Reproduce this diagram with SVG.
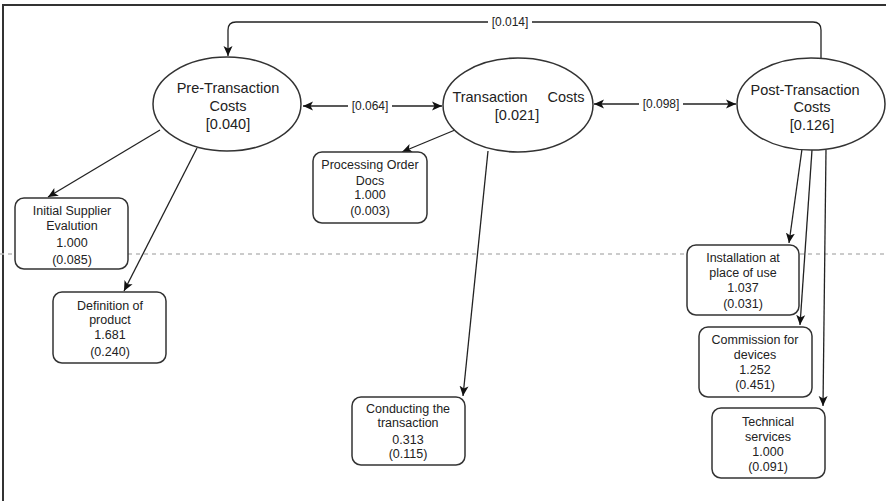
<svg xmlns="http://www.w3.org/2000/svg" width="886" height="501" viewBox="0 0 886 501">
<style>
.frame{fill:none;stroke:#333;stroke-width:2}
.ell{fill:#fff;stroke:#333;stroke-width:1.5}
.box{fill:#fff;stroke:#333;stroke-width:1.5}
.et{font-family:"Liberation Sans",Arial,sans-serif;font-size:14.5px;fill:#222;text-anchor:middle}
.bt{font-family:"Liberation Sans",Arial,sans-serif;font-size:12.5px;fill:#222;text-anchor:middle}
.lt{font-family:"Liberation Sans",Arial,sans-serif;font-size:12px;fill:#222;text-anchor:middle}
.lbg{fill:#fff}
.con{fill:none;stroke:#222;stroke-width:1.3}
.dash{stroke:#bbb;stroke-width:1.3;stroke-dasharray:4 4}
</style>
<defs>
<marker id="ah" viewBox="0 0 10 10" refX="10" refY="5" markerWidth="10" markerHeight="10" markerUnits="userSpaceOnUse" orient="auto-start-reverse">
<path d="M0,0.5 L10,5 L0,9.5 L2.5,5 Z" fill="#111"/>
</marker>
</defs>
<rect width="886" height="501" fill="#fff"/>
<rect class="frame" x="3" y="5" width="900" height="520"/>
<line class="dash" x1="0" y1="254" x2="886" y2="254"/>
<g id="connectors">
<path class="con" d="M821,58 L821,30 Q821,22 813,22 L236,22 Q228,22 228,30 L228,56" marker-end="url(#ah)"/>
<line class="con" x1="303" y1="106" x2="442" y2="106" marker-start="url(#ah)" marker-end="url(#ah)"/>
<line class="con" x1="594" y1="104" x2="736" y2="104" marker-start="url(#ah)" marker-end="url(#ah)"/>
<line class="con" x1="160" y1="130" x2="48" y2="197" marker-end="url(#ah)"/>
<line class="con" x1="197" y1="148" x2="124" y2="291" marker-end="url(#ah)"/>
<line class="con" x1="455" y1="130" x2="402" y2="152" marker-end="url(#ah)"/>
<line class="con" x1="488" y1="151" x2="463" y2="396" marker-end="url(#ah)"/>
<line class="con" x1="802" y1="149" x2="789" y2="243" marker-end="url(#ah)"/>
<line class="con" x1="812" y1="150" x2="800" y2="325" marker-end="url(#ah)"/>
<line class="con" x1="826" y1="150" x2="823" y2="406" marker-end="url(#ah)"/>
<rect class="lbg" x="488" y="15" width="44" height="14"/>
<text class="lt" x="510" y="26">[0.014]</text>
<rect class="lbg" x="348" y="99" width="44" height="14"/>
<text class="lt" x="370" y="110">[0.064]</text>
<rect class="lbg" x="639" y="97" width="44" height="14"/>
<text class="lt" x="661" y="108">[0.098]</text>
</g>
<g id="pre">
<ellipse class="ell" cx="227" cy="104" rx="74" ry="47"/>
<text class="et" x="228" y="93">Pre-Transaction</text>
<text class="et" x="228" y="111">Costs</text>
<text class="et" x="228" y="129">[0.040]</text>
</g>
<g id="trans">
<ellipse class="ell" cx="518" cy="105" rx="75" ry="47"/>
<text class="et" x="490" y="102">Transaction</text>
<text class="et" x="566" y="102">Costs</text>
<text class="et" x="517" y="120">[0.021]</text>
</g>
<g id="post">
<ellipse class="ell" cx="811" cy="104" rx="74" ry="46"/>
<text class="et" x="805" y="95">Post-Transaction</text>
<text class="et" x="812" y="112">Costs</text>
<text class="et" x="812" y="130">[0.126]</text>
</g>
<g id="initial">
<rect class="box" x="15" y="198" width="113" height="71" rx="9"/>
<text class="bt" x="72" y="215">Initial Supplier</text>
<text class="bt" x="72" y="230">Evalution</text>
<text class="bt" x="72" y="247">1.000</text>
<text class="bt" x="72" y="264">(0.085)</text>
</g>
<g id="definition">
<rect class="box" x="53" y="292" width="113" height="71" rx="9"/>
<text class="bt" x="110" y="310">Definition of</text>
<text class="bt" x="110" y="324">product</text>
<text class="bt" x="110" y="339">1.681</text>
<text class="bt" x="110" y="356">(0.240)</text>
</g>
<g id="processing">
<rect class="box" x="313" y="152" width="114" height="71" rx="9"/>
<text class="bt" x="370" y="169">Processing Order</text>
<text class="bt" x="370" y="185">Docs</text>
<text class="bt" x="370" y="199">1.000</text>
<text class="bt" x="370" y="215">(0.003)</text>
</g>
<g id="conducting">
<rect class="box" x="352" y="397" width="113" height="68" rx="9"/>
<text class="bt" x="408" y="413">Conducting the</text>
<text class="bt" x="408" y="427">transaction</text>
<text class="bt" x="408" y="444">0.313</text>
<text class="bt" x="408" y="458">(0.115)</text>
</g>
<g id="installation">
<rect class="box" x="687" y="245" width="112" height="70" rx="9"/>
<text class="bt" x="743" y="262">Installation at</text>
<text class="bt" x="743" y="277">place of use</text>
<text class="bt" x="743" y="292">1.037</text>
<text class="bt" x="743" y="308">(0.031)</text>
</g>
<g id="commission">
<rect class="box" x="699" y="327" width="113" height="70" rx="9"/>
<text class="bt" x="755" y="344">Commission for</text>
<text class="bt" x="755" y="359">devices</text>
<text class="bt" x="755" y="374">1.252</text>
<text class="bt" x="755" y="389">(0.451)</text>
</g>
<g id="technical">
<rect class="box" x="712" y="408" width="113" height="70" rx="9"/>
<text class="bt" x="768" y="426">Technical</text>
<text class="bt" x="768" y="441">services</text>
<text class="bt" x="768" y="456">1.000</text>
<text class="bt" x="768" y="471">(0.091)</text>
</g>
</svg>
